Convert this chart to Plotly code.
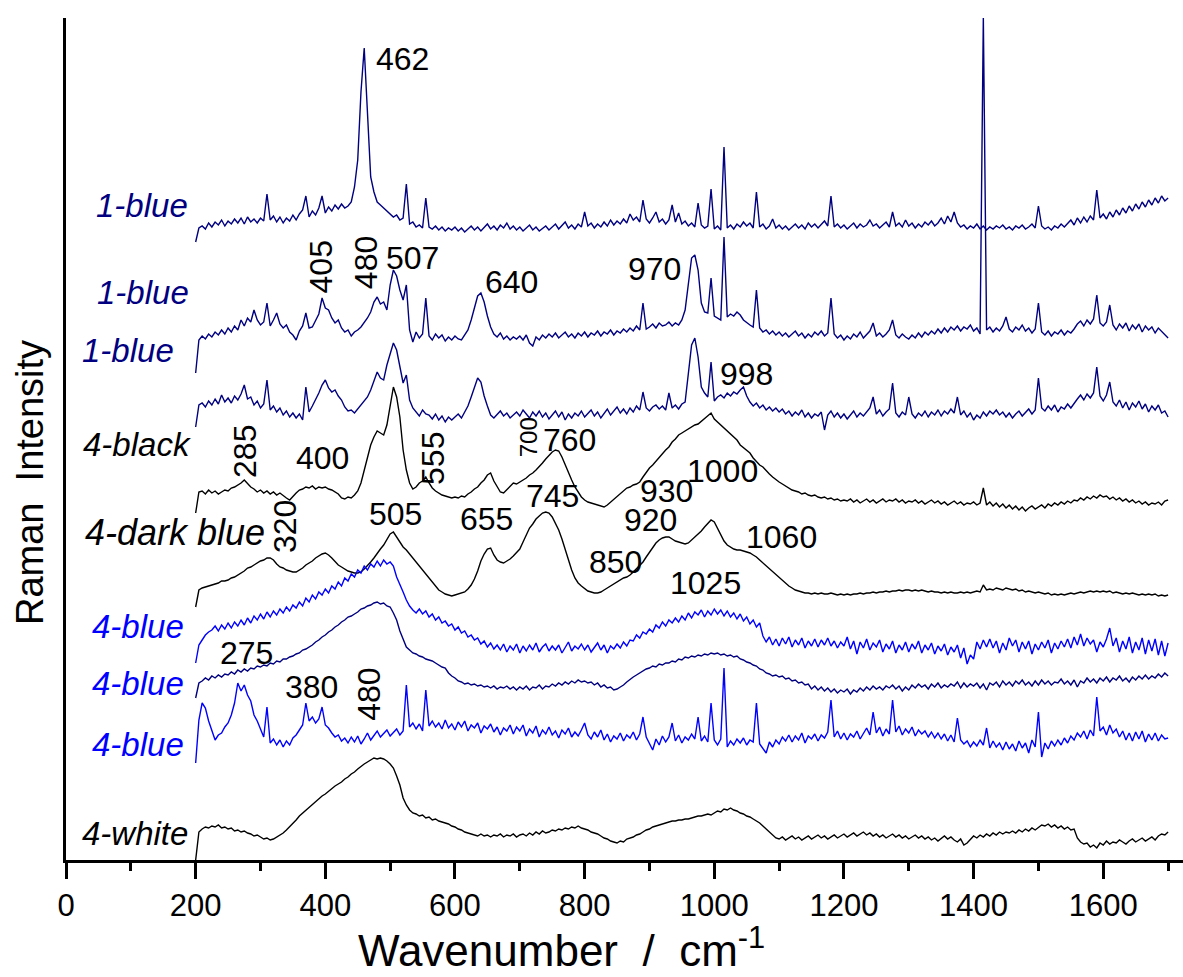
import plotly.graph_objects as go

# Raman shift grid (cm-1)
wavenumber = list(range(200, 1701, 5))

# Relative intensities (a.u.), each stacked with an offset
blue1_a = (
    [-10, 4, 6, 3, 9, 5, 10, 7, 12, 6, 11, 8, 13, 9, 14, 8, 15, 10, 13, 9] +
    [14, 11, 38, 12, 16, 10, 15, 9, 14, 11, 17, 12, 18, 22, 36, 15, 21, 17, 24, 36] +
    [19, 25, 21, 27, 23, 28, 24, 26, 30, 45, 72, 140, 184, 125, 55, 40, 30, 27, 24, 20] +
    [18, 15, 17, 12, 14, 48, 8, 10, 5, 7, 4, 34, 5, 3, 6, 2, 5, 1, 4, 2] +
    [5, 1, 4, 0, 3, 6, 2, 5, 1, 4, 8, 3, 6, 2, 7, 4, 9, 3, 6, 2] +
    [5, 1, 4, 7, 2, 5, 1, 4, 6, 2, 5, 8, 3, 6, 10, 4, 7, 3, 8, 5] +
    [20, 6, 9, 4, 8, 5, 10, 6, 12, 7, 11, 8, 13, 9, 18, 12, 15, 10, 32, 13] +
    [9, 14, 20, 10, 13, 8, 12, 27, 10, 19, 8, 11, 6, 9, 5, 29, 7, 4, 6, 43] +
    [3, 6, 2, 85, 4, 7, 3, 8, 5, 10, 6, 9, 4, 40, 5, 8, 3, 6, 13, 4] +
    [7, 3, 6, 2, 5, 8, 4, 7, 3, 9, 5, 8, 4, 7, 11, 6, 36, 5, 8, 4] +
    [7, 3, 6, 9, 4, 8, 5, 7, 12, 6, 8, 4, 7, 10, 5, 20, 6, 9, 5, 12] +
    [6, 9, 4, 8, 5, 10, 7, 11, 6, 9, 14, 8, 16, 10, 20, 9, 5, 7, 3, 6] +
    [4, 8, 3, 6, 2, 5, 3, 6, 4, 7, 3, 5, 2, 6, 4, 7, 3, 5, 8, 4] +
    [26, 6, 3, 5, 2, 6, 4, 8, 5, 9, 12, 7, 14, 9, 15, 10, 16, 12, 42, 14] +
    [18, 13, 20, 15, 22, 17, 24, 19, 26, 21, 28, 23, 30, 25, 32, 27, 34, 29, 36, 31] +
    [34]
)
blue1_b = (
    [-33, 0, 4, 1, 6, 3, 8, 5, 10, 6, 12, 8, 14, 10, 20, 14, 22, 18, 30, 20] +
    [15, 18, 37, 14, 20, 27, 16, 12, 15, 8, 5, 0, 9, 14, 27, 12, 13, 20, 26, 42] +
    [32, 30, 22, 17, 20, 12, 8, 10, 4, 8, 10, 13, 17, 22, 28, 38, 43, 36, 38, 30] +
    [55, 70, 64, 50, 40, 55, 10, -2, 8, 2, 6, 42, 4, 0, 6, 2, 5, -1, 3, 0] +
    [4, 1, 0, 5, 10, 20, 33, 44, 47, 38, 24, 13, 6, 3, 7, 1, 4, 0, 3, 1] +
    [4, 0, 5, -3, -6, 3, 0, 5, 2, 6, 3, 7, 2, 5, 8, 3, 6, 2, 7, 4] +
    [8, 3, 7, 5, 9, 4, 8, 6, 10, 5, 9, 7, 11, 8, 12, 9, 14, 10, 37, 11] +
    [13, 16, 12, 17, 14, 15, 18, 14, 17, 15, 20, 30, 55, 82, 85, 70, 37, 28, 27, 62] +
    [24, 22, 20, 103, 23, 26, 24, 28, 25, 20, 17, 15, 13, 50, 12, 8, 10, 6, 9, 5] +
    [8, 4, 7, 3, 6, 9, 4, 7, 2, 6, 3, 8, 5, 9, 4, 7, 42, 6, 2, 5] +
    [0, 4, 1, 6, 3, 8, 2, 5, 9, 17, 4, 7, 3, 6, 10, 20, 5, 2, 6, 3] +
    [1, 5, 2, 7, 3, 8, 5, 9, 6, 11, 7, 12, 8, 13, 10, 14, 9, 13, 11, 15] +
    [9, 12, 6, 323, 10, 13, 8, 12, 9, 14, 23, 11, 8, 13, 10, 15, 9, 12, 7, 11] +
    [37, 8, 5, 9, 4, 8, 6, 10, 5, 9, 7, 11, 16, 19, 14, 20, 16, 21, 45, 17] +
    [14, 18, 35, 15, 10, 16, 12, 17, 9, 15, 11, 16, 8, 14, 10, 13, 7, 12, 9, 6] +
    [2]
)
blue1_c = (
    [-7, 15, 17, 13, 19, 15, 21, 16, 25, 18, 22, 17, 24, 20, 26, 35, 21, 23, 15, 19] +
    [12, 16, 40, 10, 14, 8, 12, 5, 9, 3, 7, 2, 6, 0, 33, 8, 14, 20, 27, 35] +
    [40, 32, 28, 30, 24, 20, 13, 9, 10, 7, 11, 14, 19, 23, 30, 40, 48, 42, 40, 55] +
    [65, 77, 70, 55, 37, 45, 20, 12, 8, 4, 10, 6, 5, 1, 6, 0, 4, -2, 3, 0] +
    [3, 6, 2, 8, 14, 23, 33, 42, 38, 24, 14, 5, 2, 6, 9, 4, 7, 2, 5, 8] +
    [4, 10, 6, 2, 8, 4, 9, 3, 7, 1, 5, 9, 3, 8, 0, 6, 2, 7, 4, 9] +
    [3, 7, 10, 4, 8, 2, 6, 11, 5, 9, 13, 7, 11, 6, 12, 8, 14, 10, 28, 12] +
    [9, 13, 15, 11, 14, 10, 27, 12, 15, 11, 16, 18, 45, 75, 82, 63, 33, 27, 23, 58] +
    [19, 23, 25, 22, 27, 24, 28, 26, 30, 33, 24, 18, 14, 17, 12, 15, 10, 13, 9, 12] +
    [8, 11, 6, 9, 4, 8, 5, 10, 3, 7, 2, 6, 4, 8, -10, 5, 9, 3, 7, 2] +
    [6, 1, 5, 9, 3, 7, 4, 8, 12, 23, 6, 10, 4, 8, 11, 37, 7, 3, 8, 5] +
    [23, 6, 2, 7, 4, 9, 3, 8, 5, 10, 4, 9, 6, 11, 7, 23, 5, 9, 3, 7] +
    [0, 5, 2, 8, 4, 9, 6, 10, 5, 8, 3, 7, 2, 6, 9, 4, 8, 11, 6, 10] +
    [42, 12, 9, 14, 10, 15, 8, 13, 11, 16, 12, 17, 21, 25, 20, 26, 22, 27, 53, 24] +
    [19, 25, 38, 18, 14, 20, 12, 18, 10, 17, 13, 19, 11, 16, 8, 14, 10, 15, 7, 9] +
    [3]
)
black4 = (
    [-8, 13, 14, 11, 15, 12, 14, 11, 13, 15, 14, 17, 18, 20, 22, 25, 21, 18, 16, 13] +
    [15, 12, 14, 11, 13, 10, 12, 9, 7, 5, 9, 12, 15, 16, 18, 17, 19, 16, 18, 17] +
    [18, 16, 15, 13, 11, 7, 6, 8, 7, 10, 14, 22, 35, 50, 60, 68, 74, 72, 70, 80] +
    [100, 118, 108, 88, 55, 35, 22, 16, 18, 22, 24, 28, 22, 17, 14, 12, 10, 9, 8, 7] +
    [8, 7, 9, 8, 11, 13, 16, 18, 22, 25, 30, 32, 24, 18, 13, 12, 15, 19, 22, 21] +
    [23, 25, 27, 30, 32, 35, 38, 42, 46, 50, 53, 55, 54, 48, 40, 32, 25, 18, 13, 8] +
    [5, 3, 2, 1, 0, -1, -2, 0, 3, 6, 8, 12, 15, 17, 18, 20, 21, 23, 28, 33] +
    [37, 40, 44, 47, 52, 55, 58, 63, 66, 70, 72, 74, 76, 78, 80, 81, 84, 86, 89, 92] +
    [86, 83, 80, 78, 75, 72, 68, 65, 60, 57, 55, 52, 47, 43, 40, 38, 34, 31, 28, 25] +
    [23, 21, 19, 17, 15, 14, 13, 11, 12, 10, 9, 10, 8, 7, 8, 6, 7, 5, 6, 4] +
    [5, 4, 6, 3, 5, 2, 4, 6, 3, 5, 2, 4, 6, 3, 5, 4, 6, 3, 5, 2] +
    [4, 3, 5, 2, 4, 1, 3, 5, 2, 4, 1, 3, 0, 2, 4, 1, 3, 0, 2, 1] +
    [3, 0, 2, 17, 0, 3, -1, 2, -2, 1, -3, 0, -4, -1, -5, -2, -6, -3, -1, -4] +
    [-2, 0, -3, 1, -1, 2, 0, 3, 1, 4, 2, 5, 4, 7, 5, 8, 6, 9, 7, 10] +
    [8, 9, 6, 8, 5, 7, 4, 6, 3, 5, 2, 4, 1, 3, 0, 2, 1, 3, 0, 4] +
    [5]
)
darkblue4 = (
    [-12, 5, 7, 8, 9, 10, 11, 12, 14, 14, 15, 17, 18, 20, 22, 24, 27, 28, 30, 32] +
    [34, 35, 37, 37, 35, 31, 28, 27, 25, 24, 23, 23, 25, 27, 30, 32, 34, 37, 39, 41] +
    [42, 40, 37, 33, 30, 28, 26, 24, 23, 22, 22, 23, 26, 29, 33, 37, 42, 46, 50, 56] +
    [61, 63, 58, 52, 48, 45, 41, 36, 32, 29, 25, 21, 16, 12, 8, 5, 3, 1, 0, -1] +
    [0, 1, 2, 3, 6, 10, 16, 24, 34, 41, 46, 47, 40, 35, 33, 32, 34, 36, 39, 42] +
    [46, 53, 60, 67, 71, 76, 79, 82, 83, 82, 78, 72, 65, 56, 45, 34, 25, 17, 12, 9] +
    [6, 4, 3, 2, 2, 3, 5, 7, 9, 11, 13, 15, 17, 18, 20, 23, 26, 29, 33, 38] +
    [43, 47, 52, 55, 57, 58, 58, 56, 54, 53, 52, 51, 52, 55, 58, 60, 64, 68, 72, 75] +
    [73, 67, 60, 54, 50, 48, 46, 45, 45, 44, 43, 42, 40, 38, 35, 32, 30, 27, 23, 20] +
    [17, 14, 11, 9, 7, 5, 4, 3, 2, 2, 1, 2, 1, 2, 1, 1, 2, 1, 0, 1] +
    [0, 1, 0, 1, 1, 2, 1, 2, 2, 3, 2, 3, 3, 4, 3, 4, 4, 5, 4, 5] +
    [5, 4, 5, 4, 5, 4, 3, 4, 3, 3, 2, 3, 2, 3, 2, 2, 3, 2, 3, 2] +
    [3, 4, 3, 10, 5, 6, 5, 7, 6, 5, 7, 6, 5, 6, 4, 5, 3, 4, 3, 2] +
    [3, 2, 1, 2, 0, 1, 0, 1, 0, 1, 2, 1, 2, 3, 2, 3, 4, 3, 4, 3] +
    [4, 3, 4, 2, 3, 2, 1, 2, 1, 2, 1, 0, 1, 0, 1, 0, 1, -1, 0, -1] +
    [0]
)
blue4_a = (
    [-13, 5, 10, 15, 18, 20, 24, 19, 25, 21, 27, 22, 28, 24, 30, 25, 32, 27, 34, 30] +
    [36, 31, 38, 33, 39, 35, 41, 37, 43, 39, 45, 42, 48, 44, 52, 48, 55, 51, 58, 55] +
    [61, 57, 64, 61, 68, 64, 72, 69, 76, 73, 80, 77, 84, 80, 86, 83, 89, 84, 90, 86] +
    [88, 84, 73, 66, 58, 50, 44, 40, 37, 41, 36, 39, 33, 36, 30, 33, 27, 29, 24, 26] +
    [20, 23, 17, 19, 13, 15, 10, 12, 6, 9, 3, 7, 1, 5, 0, 6, -2, 4, 0, 6] +
    [-3, 4, -1, 5, 0, 7, -2, 3, 6, -1, 4, 0, 5, -3, 3, 8, -1, 4, 1, 6] +
    [0, 5, -2, 3, 7, 0, 5, -3, 4, 1, 6, 2, 8, 4, 10, 9, 15, 12, 18, 16] +
    [21, 18, 25, 22, 28, 24, 30, 27, 32, 28, 34, 30, 37, 32, 38, 35, 40, 33, 39, 35] +
    [41, 36, 40, 34, 39, 33, 37, 31, 36, 29, 33, 26, 30, 23, 27, 14, 8, 13, 5, 11] +
    [4, 12, 6, 13, 3, 10, 5, 12, 2, 9, 4, 11, 3, 10, 5, 12, 4, 9, 2, 8] +
    [4, 13, 1, 9, -4, 8, 2, 11, 0, 7, 3, 10, -2, 6, 1, 9, -3, 5, 0, 8] +
    [-2, 6, 1, 9, -3, 5, 0, 7, -4, 4, -1, 6, -5, 3, -2, 5, -8, 2, -14, -5] +
    [-9, 8, 1, 10, 3, 11, 2, 9, -3, 7, 0, 12, 4, 10, -2, 8, 1, 9, -4, 6] +
    [0, 8, 2, 10, -3, 7, 1, 9, 3, 11, 2, 13, 5, 16, 4, 12, 6, 10, -2, 8] +
    [3, 11, 22, 4, 12, -2, 9, 1, 13, -3, 8, 0, 12, -4, 10, -1, 11, -5, 9, -6] +
    [7]
)
blue4_b = (
    [-5, 10, 12, 15, 13, 17, 15, 18, 16, 19, 18, 21, 19, 23, 21, 24, 22, 25, 24, 27] +
    [26, 28, 27, 30, 29, 32, 31, 34, 34, 36, 37, 39, 40, 43, 44, 46, 48, 51, 53, 56] +
    [58, 61, 63, 66, 68, 71, 73, 76, 77, 79, 81, 84, 85, 87, 88, 90, 91, 89, 90, 87] +
    [86, 80, 73, 62, 53, 46, 43, 40, 39, 37, 36, 34, 33, 32, 30, 28, 26, 25, 20, 17] +
    [15, 12, 11, 9, 10, 8, 9, 7, 8, 6, 7, 5, 7, 4, 6, 5, 7, 4, 6, 3] +
    [6, 4, 7, 3, 6, 5, 8, 4, 7, 6, 9, 7, 10, 8, 11, 9, 12, 10, 13, 11] +
    [12, 10, 11, 8, 10, 6, 8, 5, 6, 3, 4, 6, 8, 11, 14, 16, 18, 20, 22, 24] +
    [25, 27, 26, 29, 28, 30, 30, 32, 31, 34, 33, 36, 35, 37, 36, 38, 37, 39, 38, 40] +
    [39, 40, 38, 39, 37, 38, 36, 37, 34, 33, 31, 30, 28, 27, 24, 23, 20, 19, 17, 18] +
    [16, 17, 14, 15, 12, 13, 10, 11, 8, 9, 4, 7, 3, 6, 2, 5, 1, 4, 0, 3] +
    [1, 4, -1, 3, 1, 5, 2, 6, 3, 7, 4, 6, 3, 7, 5, 8, 4, 7, 2, 6] +
    [3, 8, 5, 9, 6, 8, 4, 9, 6, 10, 5, 8, 6, 9, 7, 11, 5, 10, 6, 9] +
    [7, 10, 5, 9, 3, 10, 8, 11, 6, 12, 8, 11, 7, 12, 9, 13, 8, 11, 7, 12] +
    [8, 13, 9, 12, 8, 11, 10, 14, 9, 12, 8, 13, 6, 12, 10, 15, 11, 14, 10, 15] +
    [12, 16, 11, 15, 13, 17, 12, 15, 11, 16, 13, 17, 14, 18, 14, 17, 15, 19, 16, 20] +
    [17]
)
blue4_c = (
    [-18, 25, 42, 37, 24, 15, 5, 10, 12, 18, 22, 30, 42, 62, 54, 60, 50, 44, 30, 24] +
    [16, 8, 38, 2, 6, 0, 5, -2, 4, 0, 7, 10, 15, 20, 42, 24, 28, 22, 26, 38] +
    [20, 17, 12, 8, 10, 4, 7, 2, 8, 3, 9, 1, 6, 12, 5, 10, 14, 8, 12, 15] +
    [9, 13, 16, 10, 14, 60, 18, 22, 16, 21, 14, 55, 19, 24, 18, 22, 16, 25, 17, 21] +
    [15, 23, 18, 24, 14, 20, 17, 22, 12, 19, 16, 21, 13, 18, 10, 17, 14, 20, 11, 18] +
    [14, 20, 9, 16, 12, 19, 8, 15, 11, 18, 10, 14, 7, 15, 11, 17, 8, 13, 9, 15] +
    [22, 10, 6, 13, 8, 15, 5, 11, 3, 9, 6, 12, 4, 10, 7, 13, 5, 11, 28, 8] +
    [2, -5, 6, 0, 9, 3, 8, 22, 4, 10, 2, 8, 5, 11, 6, 28, 4, 9, 3, 42] +
    [5, 0, 6, 77, -2, 4, 0, 6, 2, 7, 0, 5, 3, 42, 1, -4, -8, 3, -2, 5] +
    [1, 8, 4, 10, 3, 9, 5, 12, 2, 9, 6, 11, 4, 10, 7, 13, 45, 8, 14, 6] +
    [12, 5, 11, 8, 14, 6, 12, 17, 10, 33, 12, 18, 9, 16, 11, 45, 13, 19, 10, 16] +
    [12, 18, 9, 15, 11, 14, 8, 13, 7, 12, 6, 11, 4, 10, 3, 27, 5, 1, 4, -2] +
    [3, -1, 5, 0, 17, -3, 4, -2, 2, -5, 3, -4, 1, -6, 4, -3, 2, -8, 5, -2] +
    [33, -12, 2, -4, 4, -1, 5, 0, 7, 2, 9, 5, 12, 8, 14, 6, 15, 9, 48, 14] +
    [18, 10, 20, 12, 16, 8, 14, 5, 12, 4, 13, 6, 14, 3, 11, 5, 12, 4, 10, 6] +
    [7]
)
white4 = (
    [-20, 8, 11, 13, 12, 14, 13, 15, 12, 13, 11, 12, 9, 10, 8, 9, 7, 6, 4, 5] +
    [3, 1, 2, 0, 1, 3, 5, 7, 10, 13, 17, 20, 24, 27, 30, 33, 36, 39, 41, 44] +
    [46, 49, 51, 54, 56, 58, 61, 63, 66, 68, 71, 74, 76, 78, 80, 82, 81, 82, 81, 79] +
    [76, 72, 64, 55, 42, 35, 30, 27, 26, 24, 25, 22, 23, 20, 21, 19, 18, 17, 16, 14] +
    [13, 11, 10, 8, 7, 6, 5, 4, 6, 4, 5, 3, 5, 4, 6, 3, 5, 4, 6, 3] +
    [5, 6, 4, 7, 5, 8, 6, 9, 7, 8, 10, 9, 11, 10, 12, 11, 13, 12, 14, 12] +
    [11, 10, 8, 7, 6, 4, 2, 1, -1, -2, -3, -1, -2, 1, 2, 3, 5, 6, 8, 10] +
    [11, 13, 14, 15, 16, 17, 18, 19, 19, 20, 20, 21, 21, 22, 23, 24, 24, 25, 26, 25] +
    [27, 29, 28, 31, 30, 32, 30, 29, 27, 26, 24, 23, 21, 19, 17, 14, 11, 8, 5, 2] +
    [1, 3, 0, 2, 4, 1, 3, 0, 2, 4, 1, 3, 5, 2, 4, 1, 3, 5, 2, 4] +
    [6, 3, 5, 7, 4, 6, 8, 5, 7, 4, 6, 3, 5, 2, 4, 6, 3, 5, 2, 4] +
    [1, 3, 5, 2, 4, 1, 3, 0, 2, -1, 2, 4, 1, 3, 0, -2, 1, -5, -3, 1] +
    [4, 2, 5, 3, 6, 4, 7, 5, 8, 6, 8, 7, 9, 7, 10, 8, 11, 9, 12, 10] +
    [13, 15, 14, 16, 13, 15, 12, 14, 11, 13, 10, 11, 2, -2, -4, -3, -7, -5, -8, -3] +
    [-5, -1, -4, -2, -3, 0, -2, -4, -1, 1, -2, 0, 2, -1, 1, 3, 0, 4, 6, 5] +
    [8]
)

series_names = ["1-blue", "1-blue", "1-blue", "4-black", "4-dark blue",
                "4-blue", "4-blue", "4-blue", "4-white"]
series_values = [blue1_a, blue1_b, blue1_c, black4, darkblue4,
                 blue4_a, blue4_b, blue4_c, white4]
series_offsets = [628, 520, 440, 355, 265, 210, 167, 115, 20]
series_colors = ["#000080", "#000080", "#000080", "#000000", "#000000",
                 "#0000FF", "#000080", "#0000FF", "#000000"]

# label text, colour, position (x in cm-1, y in a.u.), size
series_labels = [
    ("1-blue", "#000080", 117, 655, 33),
    ("1-blue", "#000080", 119, 568, 33),
    ("1-blue", "#000080", 96, 510, 33),
    ("4-black", "#000000", 110, 416, 33),
    ("4-dark blue", "#000000", 168, 328, 36),
    ("4-blue", "#0000FF", 111, 234, 33),
    ("4-blue", "#0000FF", 111, 177, 33),
    ("4-blue", "#0000FF", 111, 116, 33),
    ("4-white", "#000000", 106, 27, 33),
]

# peak labels: text, x, y, angle, size
peak_labels = [
    ("462", 519, 801, 0, 32),
    ("405", 394, 593, -90, 32),
    ("480", 463, 597, -90, 32),
    ("507", 534, 602, 0, 32),
    ("640", 687, 578, 0, 32),
    ("970", 907, 591, 0, 32),
    ("998", 1050, 486, 0, 32),
    ("285", 276, 409, -90, 32),
    ("400", 395, 402, 0, 32),
    ("555", 566, 402, -90, 32),
    ("700", 713, 423, -90, 24),
    ("760", 777, 420, 0, 32),
    ("745", 751, 364, 0, 32),
    ("930", 927, 369, 0, 32),
    ("1000", 1013, 389, 0, 32),
    ("920", 902, 340, 0, 32),
    ("505", 508, 346, 0, 32),
    ("655", 649, 341, 0, 32),
    ("320", 338, 333, -90, 32),
    ("1060", 1103, 323, 0, 32),
    ("850", 848, 298, 0, 32),
    ("1025", 986, 277, 0, 32),
    ("275", 278, 207, 0, 32),
    ("380", 379, 173, 0, 32),
    ("480", 467, 166, -90, 32),
]

major_ticks = [0, 200, 400, 600, 800, 1000, 1200, 1400, 1600]
minor_ticks = [100, 300, 500, 700, 900, 1100, 1300, 1500, 1700]

FONT = "Liberation Sans, Arial, sans-serif"

fig = go.Figure()
for vals, off, col in zip(series_values, series_offsets, series_colors):
    n = min(len(vals), len(wavenumber))
    fig.add_trace(go.Scatter(
        x=wavenumber[:n], y=[off + v for v in vals[:n]], mode="lines",
        line=dict(color=col, width=1.4), showlegend=False, hoverinfo="skip"))

annotations = []
for text, col, x, y, size in series_labels:
    annotations.append(dict(x=x, y=y, xref="x", yref="y", text="<i>%s</i>" % text,
                            showarrow=False, xanchor="center", yanchor="middle",
                            font=dict(family=FONT, size=size, color=col)))
for text, x, y, ang, size in peak_labels:
    annotations.append(dict(x=x, y=y, xref="x", yref="y", text=text, textangle=ang,
                            showarrow=False, xanchor="center", yanchor="middle",
                            font=dict(family=FONT, size=size, color="black")))
annotations.append(dict(x=-0.032, y=0.448, xref="paper", yref="paper",
                        text="Raman\u00a0 Intensity", textangle=-90, showarrow=False,
                        xanchor="center", yanchor="middle",
                        font=dict(family=FONT, size=38, color="black")))
annotations.append(dict(x=0.4436, y=-0.104, xref="paper", yref="paper",
                        text="Wavenumber\u00a0 /\u00a0 cm<sup>-1</sup>", showarrow=False,
                        xanchor="center", yanchor="middle",
                        font=dict(family=FONT, size=44, color="black")))

fig.update_layout(
    width=1183, height=977,
    margin=dict(l=66, r=0, t=18, b=117),
    plot_bgcolor="white", paper_bgcolor="white",
    showlegend=False,
    font=dict(family=FONT, color="black"),
    annotations=annotations,
)
fig.update_xaxes(
    range=[0, 1723], tickvals=major_ticks, ticktext=[str(t) for t in major_ticks],
    ticks="outside", ticklen=16, tickwidth=2.5, tickcolor="black",
    showline=True, linecolor="black", linewidth=2.5, showgrid=False, zeroline=False,
    tickfont=dict(family=FONT, size=31, color="black"),
    minor=dict(tickvals=minor_ticks, ticks="outside", ticklen=8, tickwidth=2.5,
               tickcolor="black", showgrid=False),
)
fig.update_yaxes(
    range=[0, 842], showline=True, linecolor="black", linewidth=2.5,
    showticklabels=False, ticks="", showgrid=False, zeroline=False,
)

fig.write_html("out.html")
